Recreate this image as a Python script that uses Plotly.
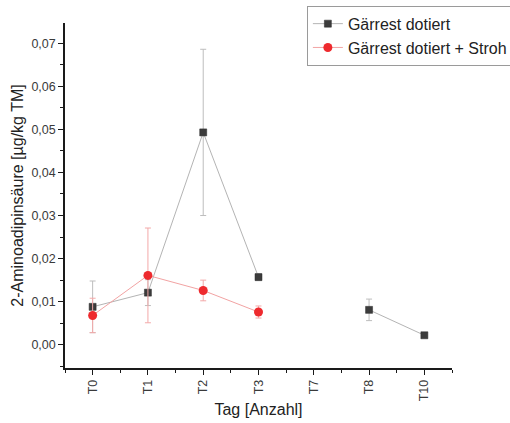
import plotly.graph_objects as go

categories = ["T0", "T1", "T2", "T3", "T7", "T8", "T10"]

black_name = "Gärrest dotiert"
black_values = [0.0088, 0.0121, 0.0493, 0.0157, None, 0.0081, 0.0022]
black_errors = [0.0060, 0.0030, 0.0193, 0.0008, None, 0.0025, 0.0005]

red_name = "Gärrest dotiert + Stroh"
red_values = [0.0068, 0.0161, 0.0126, 0.0076, None, None, None]
red_errors = [0.0040, 0.0110, 0.0024, 0.0014, None, None, None]

y_tickvals = [0.0, 0.01, 0.02, 0.03, 0.04, 0.05, 0.06, 0.07]

# category positions on a linear axis (so minor ticks between categories work)
x_pos = list(range(len(categories)))

fig = go.Figure()

fig.add_trace(go.Scatter(
    x=x_pos, y=black_values, name=black_name,
    mode="lines+markers", connectgaps=False,
    line=dict(color="#b4b4b4", width=1),
    marker=dict(symbol="square", size=7, color="#3c3c3c",
                line=dict(color="#2a2a2a", width=0.5)),
    error_y=dict(type="data", array=black_errors, visible=True,
                 color="#bdbdbd", thickness=1, width=3),
))

fig.add_trace(go.Scatter(
    x=x_pos, y=red_values, name=red_name,
    mode="lines+markers", connectgaps=False,
    line=dict(color="#f2a3a3", width=1),
    marker=dict(symbol="circle", size=9, color="#ee2a2e",
                line=dict(color="#ee2a2e", width=0)),
    error_y=dict(type="data", array=red_errors, visible=True,
                 color="#f3a9a9", thickness=1, width=3),
))

axis_font = dict(family="Liberation Sans, Arial, sans-serif", size=12.5, color="#3a3a3a")
title_font = dict(family="Liberation Sans, Arial, sans-serif", size=16, color="#222222")

fig.update_layout(
    width=510, height=423,
    margin=dict(l=65, r=58, t=23, b=55, autoexpand=False),
    paper_bgcolor="white", plot_bgcolor="white",
    separators=",.",
    showlegend=True,
    legend=dict(
        x=0.625, y=1.05, xanchor="left", yanchor="top",
        bordercolor="#9a9a9a", borderwidth=1, bgcolor="white",
        font=dict(family="Liberation Sans, Arial, sans-serif", size=16, color="#222222"),
        tracegroupgap=0, itemsizing="trace",
    ),
    xaxis=dict(
        range=[-0.5, 6.5],
        tickmode="array", tickvals=x_pos, ticktext=categories,
        showline=True, linecolor="#1a1a1a", linewidth=1.5,
        ticks="outside", ticklen=5, tickwidth=1, tickcolor="#1a1a1a",
        minor=dict(tickmode="linear", tick0=0.5, dtick=1, ticks="outside", ticklen=3,
                   tickcolor="#1a1a1a", showgrid=False),
        tickangle=-90, tickfont=axis_font,
        showgrid=False, zeroline=False, automargin=False,
        title=dict(text="Tag [Anzahl]", font=title_font, standoff=4),
    ),
    yaxis=dict(
        range=[-0.0054, 0.0747],
        tickvals=y_tickvals, tickformat=".2f",
        showline=True, linecolor="#1a1a1a", linewidth=1.5,
        ticks="outside", ticklen=5, tickwidth=1, tickcolor="#1a1a1a",
        minor=dict(dtick=0.005, tick0=0.005, ticks="outside", ticklen=3,
                   tickcolor="#1a1a1a", showgrid=False),
        tickfont=axis_font,
        showgrid=False, zeroline=False, automargin=False,
        title=dict(text="2-Aminoadipinsäure [µg/kg TM]", font=title_font, standoff=4),
    ),
)

fig.write_html("out.html")
